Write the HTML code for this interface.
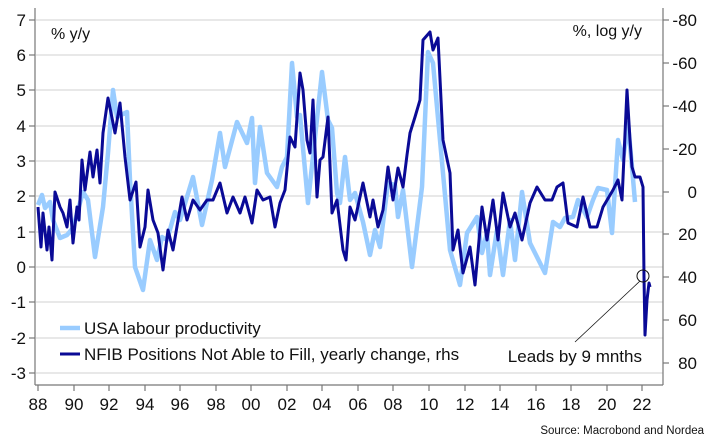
<!DOCTYPE html>
<html><head><meta charset="utf-8"><style>
html,body{margin:0;padding:0;background:#fff;width:710px;height:448px;overflow:hidden}
text{font-family:"Liberation Sans",sans-serif;fill:#111}
</style></head><body>
<svg width="710" height="448" viewBox="0 0 710 448" xmlns="http://www.w3.org/2000/svg">
<g stroke="#e8e8e8" stroke-width="2">
<line x1="36" x2="663" y1="20" y2="20"/><line x1="36" x2="663" y1="55" y2="55"/><line x1="36" x2="663" y1="90" y2="90"/><line x1="36" x2="663" y1="126" y2="126"/><line x1="36" x2="663" y1="161" y2="161"/><line x1="36" x2="663" y1="196" y2="196"/><line x1="36" x2="663" y1="232" y2="232"/><line x1="36" x2="663" y1="267" y2="267"/><line x1="36" x2="663" y1="302" y2="302"/><line x1="36" x2="663" y1="338" y2="338"/><line x1="36" x2="663" y1="373" y2="373"/>
</g>
<g stroke="#777" stroke-width="1.2">
<line x1="35" x2="35" y1="8" y2="385"/><line x1="663" x2="663" y1="8" y2="385"/><line x1="35" x2="663" y1="385" y2="385"/>
<line x1="29" x2="35" y1="20" y2="20"/><line x1="29" x2="35" y1="55" y2="55"/><line x1="29" x2="35" y1="90" y2="90"/><line x1="29" x2="35" y1="126" y2="126"/><line x1="29" x2="35" y1="161" y2="161"/><line x1="29" x2="35" y1="196" y2="196"/><line x1="29" x2="35" y1="232" y2="232"/><line x1="29" x2="35" y1="267" y2="267"/><line x1="29" x2="35" y1="302" y2="302"/><line x1="29" x2="35" y1="338" y2="338"/><line x1="29" x2="35" y1="373" y2="373"/>
<line x1="663" x2="669" y1="20" y2="20"/><line x1="663" x2="669" y1="63" y2="63"/><line x1="663" x2="669" y1="106" y2="106"/><line x1="663" x2="669" y1="149" y2="149"/><line x1="663" x2="669" y1="192" y2="192"/><line x1="663" x2="669" y1="234" y2="234"/><line x1="663" x2="669" y1="277" y2="277"/><line x1="663" x2="669" y1="320" y2="320"/><line x1="663" x2="669" y1="363" y2="363"/>
<line x1="38" x2="38" y1="385" y2="391"/><line x1="74" x2="74" y1="385" y2="391"/><line x1="109" x2="109" y1="385" y2="391"/><line x1="145" x2="145" y1="385" y2="391"/><line x1="180" x2="180" y1="385" y2="391"/><line x1="216" x2="216" y1="385" y2="391"/><line x1="251" x2="251" y1="385" y2="391"/><line x1="287" x2="287" y1="385" y2="391"/><line x1="322" x2="322" y1="385" y2="391"/><line x1="358" x2="358" y1="385" y2="391"/><line x1="393" x2="393" y1="385" y2="391"/><line x1="429" x2="429" y1="385" y2="391"/><line x1="465" x2="465" y1="385" y2="391"/><line x1="500" x2="500" y1="385" y2="391"/><line x1="536" x2="536" y1="385" y2="391"/><line x1="571" x2="571" y1="385" y2="391"/><line x1="607" x2="607" y1="385" y2="391"/><line x1="642" x2="642" y1="385" y2="391"/>
</g>
<g font-size="17" text-anchor="end">
<text x="26" y="26">7</text><text x="26" y="61">6</text><text x="26" y="96">5</text><text x="26" y="132">4</text><text x="26" y="167">3</text><text x="26" y="202">2</text><text x="26" y="238">1</text><text x="26" y="273">0</text><text x="26" y="308">-1</text><text x="26" y="344">-2</text><text x="26" y="379">-3</text>
</g>
<g font-size="17" text-anchor="end">
<text x="697" y="26">-80</text><text x="697" y="69">-60</text><text x="697" y="112">-40</text><text x="697" y="155">-20</text><text x="697" y="198">0</text><text x="697" y="240">20</text><text x="697" y="283">40</text><text x="697" y="326">60</text><text x="697" y="369">80</text>
</g>
<g font-size="17" text-anchor="middle">
<text x="38" y="410">88</text><text x="74" y="410">90</text><text x="109" y="410">92</text><text x="145" y="410">94</text><text x="180" y="410">96</text><text x="216" y="410">98</text><text x="251" y="410">00</text><text x="287" y="410">02</text><text x="322" y="410">04</text><text x="358" y="410">06</text><text x="393" y="410">08</text><text x="429" y="410">10</text><text x="465" y="410">12</text><text x="500" y="410">14</text><text x="536" y="410">16</text><text x="571" y="410">18</text><text x="607" y="410">20</text><text x="642" y="410">22</text>
</g>
<text x="51" y="39" font-size="16">% y/y</text>
<text x="642" y="36" font-size="16" text-anchor="end">%, log y/y</text>
<polyline fill="none" stroke="#99ccff" stroke-width="4.5" stroke-linejoin="round" points="38,205 42,195 45,208 50,202 53,220 60,238 67,235 73,228 83,192 88,200 95,257 103,207 108,153 113,90 117,117 127,112 130,180 135,267 143,290 150,240 157,260 162,237 167,240 175,212 180,220 193,177 202,225 212,180 220,133 225,167 237,122 247,143 252,118 255,183 260,127 267,173 277,187 282,167 287,157 292,63 297,117 300,115 308,203 322,72 328,120 332,128 337,193 340,203 345,157 350,200 355,193 363,222 370,255 375,230 380,247 388,183 395,185 398,217 403,190 412,267 422,187 428,52 433,63 440,140 450,250 460,285 467,233 477,217 482,253 487,233 490,275 497,230 503,275 510,220 515,260 522,192 530,243 545,273 553,222 560,227 565,218 573,217 578,200 587,217 593,200 598,188 607,190 612,233 618,140 623,160 628,123 632,167 635,202"/>
<polyline fill="none" stroke="#0a0a96" stroke-width="3" stroke-linejoin="round" points="38,207 41,247 43,213 47,250 49,227 52,260 55,192 60,207 63,213 67,227 70,200 73,243 77,207 79,220 82,160 85,190 90,152 93,177 97,150 100,183 103,133 108,98 115,133 120,103 125,157 130,200 136,182 140,247 145,227 148,190 153,220 158,233 163,270 168,230 173,250 182,197 187,220 193,200 200,210 207,200 213,200 220,183 227,213 233,197 240,213 245,197 252,223 257,190 263,200 270,197 275,227 280,203 285,190 290,137 295,147 300,73 303,90 307,140 310,153 313,100 317,197 320,160 323,157 328,117 332,213 337,200 343,250 346,260 350,207 355,220 363,183 370,217 373,200 378,227 383,210 388,167 393,200 398,168 403,187 407,155 410,133 415,117 420,100 423,40 430,32 433,50 438,38 443,140 450,173 453,250 458,230 463,273 470,247 475,285 482,207 487,240 493,200 498,240 503,193 510,227 515,213 522,240 530,203 537,187 545,200 552,200 557,187 563,183 568,223 577,227 583,197 590,227 597,227 603,207 613,190 618,180 622,200 627,90 630,140 632,167 635,177 640,177 643,187 644,277 645,335 647,300 649,283 650,287"/>
<circle cx="643" cy="276" r="6" fill="none" stroke="#111" stroke-width="1"/>
<line x1="640" y1="281" x2="575" y2="342" stroke="#111" stroke-width="0.8"/>
<line x1="60" x2="80" y1="328" y2="328" stroke="#99ccff" stroke-width="4.5"/>
<line x1="60" x2="80" y1="354" y2="354" stroke="#0a0a96" stroke-width="3"/>
<text x="84" y="334" font-size="17">USA labour productivity</text>
<text x="84" y="360" font-size="17">NFIB Positions Not Able to Fill, yearly change, rhs</text>
<text x="642" y="362" font-size="17" text-anchor="end">Leads by 9 mnths</text>
<text x="704" y="434" font-size="11.5" text-anchor="end">Source: Macrobond and Nordea</text>
</svg>
</body></html>
